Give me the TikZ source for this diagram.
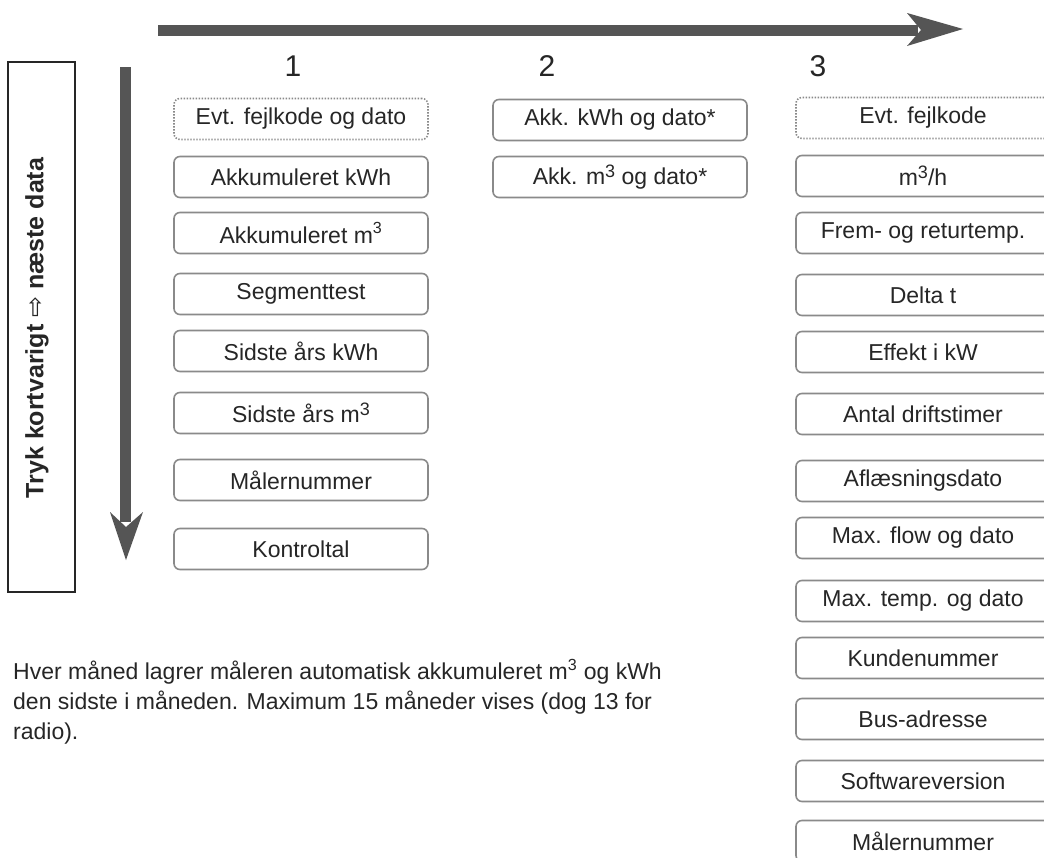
\documentclass[tikz,border=0pt]{standalone}
\usepackage{fontspec}
\usepackage{graphicx}
\setmainfont{Liberation Sans}
\newfontfamily\symfont{DejaVu Sans}
\definecolor{boxgray}{HTML}{8A8A8A}
\definecolor{inkdark}{HTML}{262626}
\definecolor{arrowgray}{HTML}{555555}
\newcommand\lsup[1]{\raisebox{0.28em}{\fontsize{18}{18}\selectfont #1}}
\tikzset{
  databox/.style={draw=boxgray, line width=1.6pt, rounded corners=6pt,
    minimum width=254pt, minimum height=41pt, inner sep=0pt,
    text=inkdark, font=\fontsize{23}{27}\selectfont},
  errbox/.style={databox, dash pattern=on 1.4pt off 1.6pt},
  collabel/.style={text=inkdark, font=\fontsize{30}{34}\selectfont, inner sep=0pt},
  bigarrow/.style={fill=arrowgray, draw=none}
}
\begin{document}
\begin{tikzpicture}[x=1pt,y=-1pt]
\useasboundingbox (0,0) rectangle (1044,857);
\clip (0,0) rectangle (1044,857);
\fill[white] (0,0) rectangle (1044,857);

% top arrow
\coordinate (ha0) at (158,30.5);
\coordinate (ha1) at (963,29);
\fill[bigarrow] (158,25) rectangle (918,36);
\fill[bigarrow] (907,13) -- (ha1) -- (907,46) -- (921,30) -- cycle;

% left box with rotated text
\draw[black!85, line width=1.4pt] (8,62) rectangle (75,592);
\node[rotate=90, text=inkdark, font=\fontsize{25}{28}\selectfont\bfseries, inner sep=0pt]
  (lbl) at (37,328) {Tryk kortvarigt {\symfont\mdseries ⇨} næste data};

% down arrow
\fill[bigarrow] (120,67) rectangle (131,522);
\fill[bigarrow] (110,512) -- (126,560) -- (143,512) -- (126,527) -- cycle;

% column labels
\node[collabel] (n1) at (293,66) {1};
\node[collabel] (n2) at (547,66) {2};
\node[collabel] (n3) at (818,66) {3};

% column 1
\node[errbox]  (c1a) at (301,119) {Evt. fejlkode og dato};
\node[databox] (c1b) at (301,177) {Akkumuleret kWh};
\node[databox] (c1c) at (301,233) {Akkumuleret m\textsuperscript{3}};
\node[databox] (c1d) at (301,294) {Segmenttest};
\node[databox] (c1e) at (301,351) {Sidste års kWh};
\node[databox] (c1f) at (301,413) {Sidste års m\lsup{3}};
\node[databox] (c1g) at (301,480) {Målernummer};
\node[databox] (c1h) at (301,549) {Kontroltal};

% column 2
\node[databox] (c2a) at (620,120) {Akk. kWh og dato*};
\node[databox] (c2b) at (620,177) {Akk. m\lsup{3} og dato*};

% column 3
\node[errbox]  (c3a) at (923,118) {Evt. fejlkode};
\node[databox] (c3b) at (923,176) {m\lsup{3}/h};
\node[databox] (c3c) at (923,233) {Frem- og returtemp.};
\node[databox] (c3d) at (923,295) {Delta t};
\node[databox] (c3e) at (923,352) {Effekt i kW};
\node[databox] (c3f) at (923,414) {Antal driftstimer};
\node[databox] (c3g) at (923,481) {Aflæsningsdato};
\node[databox] (c3h) at (923,538) {Max. flow og dato};
\node[databox] (c3i) at (923,601) {Max. temp. og dato};
\node[databox] (c3j) at (923,658) {Kundenummer};
\node[databox] (c3k) at (923,719) {Bus-adresse};
\node[databox] (c3l) at (923,781) {Softwareversion};
\node[databox] (c3m) at (923,841) {Målernummer};

% note
\node[anchor=north west, align=left, inner sep=0pt, text=inkdark,
      font=\fontsize{23}{30}\selectfont] (note) at (13,659)
  {Hver måned lagrer måleren automatisk akkumuleret m\textsuperscript{3} og kWh\\
   den sidste i måneden. Maximum 15 måneder vises (dog 13 for\\
   radio).};
\end{tikzpicture}
\end{document}
